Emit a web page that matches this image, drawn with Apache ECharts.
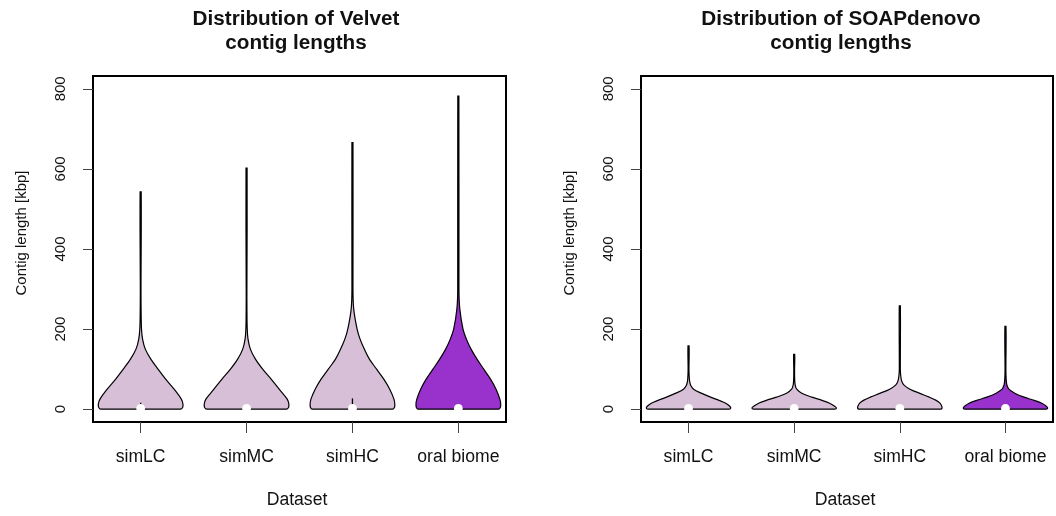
<!DOCTYPE html>
<html>
<head>
<meta charset="utf-8">
<title>Contig length distributions</title>
<script src="https://cdn.jsdelivr.net/npm/echarts@6/dist/echarts.min.js"></script>
<style>
  html, body { margin: 0; padding: 0; background: #fff; }
  #chart { width: 1056px; height: 516px; }
</style>
</head>
<body>
<div id="chart"></div>
<script>
// Datasets shown on both panels
const categories = ['simLC', 'simMC', 'simHC', 'oral biome'];
const yTicks = [0, 200, 400, 600, 800];

// Velvet: density profile (relative half-width) at each contig length level [kbp]
const velvetLevels = [0, 4, 12, 25, 50, 75, 100, 125, 150, 175, 200, 250, 300];
const velvetSimLC  = [0.94, 0.99, 1.0, 0.96, 0.79, 0.59, 0.41, 0.24, 0.11, 0.045, 0.02, 0.01, 0.008];
const velvetSimMC  = [0.94, 0.99, 1.0, 0.96, 0.77, 0.58, 0.38, 0.21, 0.09, 0.035, 0.016, 0.009, 0.008];
const velvetSimHC  = [0.95, 0.99, 1.0, 0.98, 0.88, 0.74, 0.57, 0.40, 0.28, 0.18, 0.11, 0.03, 0.012];
const velvetOral   = [0.95, 0.99, 1.0, 0.98, 0.89, 0.76, 0.60, 0.44, 0.30, 0.19, 0.11, 0.035, 0.014];
const velvetMax     = [543, 602, 666, 782];
const velvetWhisker = [16, 12, 27, 8];
const velvetMedian  = [2, 2, 2, 2];

// SOAPdenovo: density profile (relative half-width) at each contig length level [kbp]
const soapLevels = [0, 3, 8, 15, 22, 30, 40, 50, 60, 70, 85, 100];
const soapSimLC  = [0.96, 1.0, 0.97, 0.88, 0.72, 0.52, 0.30, 0.12, 0.05, 0.025, 0.014, 0.01];
const soapSimMC  = [0.96, 1.0, 0.95, 0.84, 0.66, 0.42, 0.18, 0.06, 0.025, 0.014, 0.01, 0.009];
const soapSimHC  = [0.97, 1.0, 0.99, 0.95, 0.86, 0.70, 0.46, 0.24, 0.10, 0.045, 0.02, 0.012];
const soapOral   = [0.96, 1.0, 0.96, 0.86, 0.68, 0.44, 0.22, 0.08, 0.035, 0.02, 0.012, 0.01];
const soapMax     = [158, 137, 258, 207];
const soapWhisker = [4, 4, 5, 4];
const soapMedian  = [2, 2, 2, 2];

const fills = ['#D8BFD8', '#D8BFD8', '#D8BFD8', '#9932CC'];
const HALF = 0.4;          // maximum half-width of a violin, in x units
const TAIL = 0.005;        // half-width of the thin upper tail, in x units
const FONT = 'Liberation Sans, Arial, Helvetica, sans-serif';

function bounds(points) {
  const xs = points.map(p => p[0]);
  const ys = points.map(p => p[1]);
  return [[Math.min(...xs), Math.min(...ys)], [Math.max(...xs), Math.max(...ys)]];
}

function violinSeries(axisIdx, levels, profiles, maxes, whiskers, medians) {
  return {
    type: 'custom',
    xAxisIndex: axisIdx,
    yAxisIndex: axisIdx,
    data: categories.map((c, i) => [i + 1, maxes[i], whiskers[i], medians[i]]),
    renderItem(params, api) {
      const i = params.dataIndex;
      const pos = api.value(0);
      const top = api.value(1);
      const prof = profiles[i];
      const right = levels.map((lv, k) => api.coord([pos + HALF * prof[k], lv]));
      const left = levels.map((lv, k) => api.coord([pos - HALF * prof[k], lv])).reverse();
      right.push(api.coord([pos + TAIL, top]));
      left.unshift(api.coord([pos - TAIL, top]));
      const points = right.concat(left);
      const base = api.coord([pos, 0]);
      const wTop = api.coord([pos, api.value(2)]);
      const med = api.coord([pos, api.value(3)]);
      return {
        type: 'group',
        children: [
          {
            type: 'polygon',
            shape: { points: points, smooth: 0.35, smoothConstraint: bounds(points) },
            style: { fill: fills[i], stroke: '#000', lineWidth: 1.2 }
          },
          {
            type: 'line',
            shape: { x1: base[0], y1: base[1], x2: wTop[0], y2: wTop[1] },
            style: { stroke: '#000', lineWidth: 1.3 }
          },
          {
            type: 'circle',
            shape: { cx: med[0], cy: med[1], r: 4.4 },
            style: { fill: '#fff' }
          }
        ]
      };
    }
  };
}

function xAxisFor(idx) {
  return {
    type: 'value', gridIndex: idx, min: 0.55, max: 4.45,
    axisLine: { show: false, onZero: false },
    splitLine: { show: false },
    axisTick: { show: true, customValues: [1, 2, 3, 4], length: 11, lineStyle: { color: '#444', width: 1 } },
    axisLabel: {
      customValues: [1, 2, 3, 4],
      formatter: v => categories[Math.round(v) - 1],
      margin: 26, fontSize: 17.6, color: '#111', fontFamily: FONT
    }
  };
}

function yAxisFor(idx) {
  return {
    type: 'value', gridIndex: idx, min: -32, max: 832,
    axisLine: { show: false, onZero: false },
    splitLine: { show: false },
    axisTick: { show: true, customValues: yTicks, length: 10, lineStyle: { color: '#444', width: 1 } },
    axisLabel: {
      customValues: yTicks, rotate: 90, margin: 25,
      fontSize: 15, color: '#111', fontFamily: FONT
    }
  };
}

function textEl(x, y, text, size, bold, rotation) {
  return {
    type: 'text', x: x, y: y, rotation: rotation || 0,
    style: {
      text: text, fill: '#111', font: (bold ? 'bold ' : '') + size + 'px ' + FONT,
      align: 'center', verticalAlign: 'middle'
    }
  };
}

const chart = echarts.init(document.getElementById('chart'), null, { renderer: 'canvas' });
chart.setOption({
  animation: false,
  backgroundColor: '#fff',
  grid: [
    { left: 93, top: 76, width: 413, height: 346, show: true, borderColor: '#000', borderWidth: 2, backgroundColor: 'transparent' },
    { left: 641, top: 76, width: 412, height: 346, show: true, borderColor: '#000', borderWidth: 2, backgroundColor: 'transparent' }
  ],
  xAxis: [xAxisFor(0), xAxisFor(1)],
  yAxis: [yAxisFor(0), yAxisFor(1)],
  graphic: [
    textEl(296, 19.5, 'Distribution of Velvet', 20.7, true),
    textEl(296, 43.5, 'contig lengths', 20.7, true),
    textEl(841, 19.5, 'Distribution of SOAPdenovo', 20.7, true),
    textEl(841, 43.5, 'contig lengths', 20.7, true),
    textEl(297, 500.5, 'Dataset', 17.6, false),
    textEl(845, 500.5, 'Dataset', 17.6, false),
    textEl(22, 233, 'Contig length [kbp]', 15, false, Math.PI / 2),
    textEl(570, 233, 'Contig length [kbp]', 15, false, Math.PI / 2)
  ],
  series: [
    violinSeries(0, velvetLevels, [velvetSimLC, velvetSimMC, velvetSimHC, velvetOral], velvetMax, velvetWhisker, velvetMedian),
    violinSeries(1, soapLevels, [soapSimLC, soapSimMC, soapSimHC, soapOral], soapMax, soapWhisker, soapMedian)
  ]
});
</script>
</body>
</html>
